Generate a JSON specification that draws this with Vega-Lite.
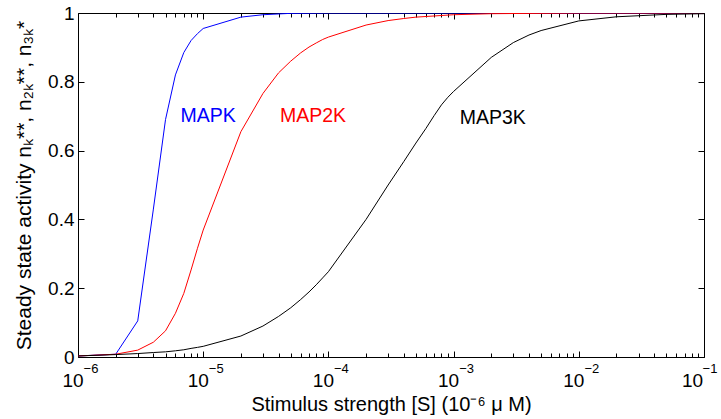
{
  "$schema": "https://vega.github.io/schema/vega-lite/v6.json",
  "width": 626,
  "height": 344,
  "autosize": "none",
  "padding": {"left": 78, "top": 13, "right": 17, "bottom": 62},
  "background": "white",
  "config": {
    "font": "Liberation Sans",
    "view": {"stroke": "black", "strokeWidth": 1},
    "axis": {"grid": false, "domain": false, "tickColor": "black", "labelColor": "black", "titleColor": "black", "labelFont": "Liberation Sans", "titleFont": "Liberation Sans", "titleFontWeight": "normal", "labelFontSize": 19, "titleFontSize": 20, "tickWidth": 1}
  },
  "datasets": {
    "curves": [
      {"x": 1e-6, "v": 0.003, "s": "MAPK"},
      {"x": 2e-6, "v": 0.008, "s": "MAPK"},
      {"x": 3e-6, "v": 0.105, "s": "MAPK"},
      {"x": 4e-6, "v": 0.43, "s": "MAPK"},
      {"x": 5e-6, "v": 0.69, "s": "MAPK"},
      {"x": 6e-6, "v": 0.82, "s": "MAPK"},
      {"x": 7e-6, "v": 0.885, "s": "MAPK"},
      {"x": 8e-6, "v": 0.92, "s": "MAPK"},
      {"x": 9e-6, "v": 0.94, "s": "MAPK"},
      {"x": 1e-5, "v": 0.955, "s": "MAPK"},
      {"x": 2e-5, "v": 0.988, "s": "MAPK"},
      {"x": 3e-5, "v": 0.995, "s": "MAPK"},
      {"x": 5e-5, "v": 0.999, "s": "MAPK"},
      {"x": 1e-4, "v": 1.0, "s": "MAPK"},
      {"x": 1e-3, "v": 1.0, "s": "MAPK"},
      {"x": 1e-2, "v": 1.0, "s": "MAPK"},
      {"x": 1e-1, "v": 1.0, "s": "MAPK"},
      {"x": 1e-6, "v": 0.003, "s": "MAP2K"},
      {"x": 2e-6, "v": 0.008, "s": "MAP2K"},
      {"x": 3e-6, "v": 0.02, "s": "MAP2K"},
      {"x": 4e-6, "v": 0.043, "s": "MAP2K"},
      {"x": 5e-6, "v": 0.076, "s": "MAP2K"},
      {"x": 6e-6, "v": 0.127, "s": "MAP2K"},
      {"x": 7e-6, "v": 0.185, "s": "MAP2K"},
      {"x": 8e-6, "v": 0.253, "s": "MAP2K"},
      {"x": 9e-6, "v": 0.316, "s": "MAP2K"},
      {"x": 1e-5, "v": 0.369, "s": "MAP2K"},
      {"x": 2e-5, "v": 0.655, "s": "MAP2K"},
      {"x": 3e-5, "v": 0.766, "s": "MAP2K"},
      {"x": 4e-5, "v": 0.826, "s": "MAP2K"},
      {"x": 5e-5, "v": 0.86, "s": "MAP2K"},
      {"x": 6e-5, "v": 0.884, "s": "MAP2K"},
      {"x": 7e-5, "v": 0.901, "s": "MAP2K"},
      {"x": 8e-5, "v": 0.913, "s": "MAP2K"},
      {"x": 9e-5, "v": 0.923, "s": "MAP2K"},
      {"x": 1e-4, "v": 0.93, "s": "MAP2K"},
      {"x": 2e-4, "v": 0.965, "s": "MAP2K"},
      {"x": 3e-4, "v": 0.978, "s": "MAP2K"},
      {"x": 4e-4, "v": 0.984, "s": "MAP2K"},
      {"x": 5e-4, "v": 0.988, "s": "MAP2K"},
      {"x": 1e-3, "v": 0.995, "s": "MAP2K"},
      {"x": 2e-3, "v": 0.998, "s": "MAP2K"},
      {"x": 1e-2, "v": 1.0, "s": "MAP2K"},
      {"x": 1e-1, "v": 1.0, "s": "MAP2K"},
      {"x": 1e-6, "v": 0.003, "s": "MAP3K"},
      {"x": 2e-6, "v": 0.007, "s": "MAP3K"},
      {"x": 3e-6, "v": 0.01, "s": "MAP3K"},
      {"x": 4e-6, "v": 0.013, "s": "MAP3K"},
      {"x": 5e-6, "v": 0.015, "s": "MAP3K"},
      {"x": 6e-6, "v": 0.018, "s": "MAP3K"},
      {"x": 7e-6, "v": 0.021, "s": "MAP3K"},
      {"x": 8e-6, "v": 0.025, "s": "MAP3K"},
      {"x": 9e-6, "v": 0.028, "s": "MAP3K"},
      {"x": 1e-5, "v": 0.031, "s": "MAP3K"},
      {"x": 2e-5, "v": 0.061, "s": "MAP3K"},
      {"x": 3e-5, "v": 0.09, "s": "MAP3K"},
      {"x": 4e-5, "v": 0.118, "s": "MAP3K"},
      {"x": 5e-5, "v": 0.143, "s": "MAP3K"},
      {"x": 6e-5, "v": 0.167, "s": "MAP3K"},
      {"x": 7e-5, "v": 0.189, "s": "MAP3K"},
      {"x": 8e-5, "v": 0.21, "s": "MAP3K"},
      {"x": 9e-5, "v": 0.23, "s": "MAP3K"},
      {"x": 1e-4, "v": 0.248, "s": "MAP3K"},
      {"x": 2e-4, "v": 0.4, "s": "MAP3K"},
      {"x": 3e-4, "v": 0.5, "s": "MAP3K"},
      {"x": 4e-4, "v": 0.568, "s": "MAP3K"},
      {"x": 5e-4, "v": 0.622, "s": "MAP3K"},
      {"x": 6e-4, "v": 0.664, "s": "MAP3K"},
      {"x": 7e-4, "v": 0.702, "s": "MAP3K"},
      {"x": 8e-4, "v": 0.733, "s": "MAP3K"},
      {"x": 9e-4, "v": 0.755, "s": "MAP3K"},
      {"x": 1e-3, "v": 0.772, "s": "MAP3K"},
      {"x": 2e-3, "v": 0.871, "s": "MAP3K"},
      {"x": 3e-3, "v": 0.914, "s": "MAP3K"},
      {"x": 4e-3, "v": 0.936, "s": "MAP3K"},
      {"x": 5e-3, "v": 0.949, "s": "MAP3K"},
      {"x": 1e-2, "v": 0.977, "s": "MAP3K"},
      {"x": 2e-2, "v": 0.989, "s": "MAP3K"},
      {"x": 5e-2, "v": 0.996, "s": "MAP3K"},
      {"x": 1e-1, "v": 0.998, "s": "MAP3K"}
    ],
    "labels": [
      {"x": 6.6e-6, "v": 0.70, "s": "MAPK"},
      {"x": 4.1e-5, "v": 0.70, "s": "MAP2K"},
      {"x": 1.12e-3, "v": 0.695, "s": "MAP3K"}
    ]
  },
  "layer": [
    {
      "data": {"name": "curves"},
      "mark": {"type": "line", "strokeWidth": 1, "clip": true},
      "encoding": {
        "x": {"field": "x", "type": "quantitative",
          "scale": {"type": "log", "domain": [1e-6, 0.1], "nice": false},
          "axis": {"orient": "bottom", "values": [1e-6, 1e-5, 1e-4, 1e-3, 1e-2, 1e-1], "tickSize": -6, "labelPadding": 20,
            "labelOffset": {"condition": {"test": "datum.value > 0.05", "value": -12}, "value": -5.5},
            "labelFlush": false, "labelOverlap": false,
            "labelExpr": "'10'",
            "title": "Stimulus strength [S] (10⁻⁶ μ M)", "titlePadding": 4}},
        "y": {"field": "v", "type": "quantitative",
          "scale": {"domain": [0, 1], "nice": false, "zero": false},
          "axis": {"orient": "left", "values": [0, 0.2, 0.4, 0.6, 0.8, 1], "tickSize": -6, "labelPadding": 10, "format": "~g", "labelFlush": false, "labelOverlap": false,
            "title": "Steady state activity nₖ**, n₂ₖ**, n₃ₖ*", "titleFontSize": 21, "titlePadding": 13}},
        "color": {"field": "s", "type": "nominal",
          "scale": {"domain": ["MAPK", "MAP2K", "MAP3K"], "range": ["#0000ff", "#ff0000", "#000000"]},
          "legend": null}
      }
    },
    {
      "data": {"name": "curves"},
      "mark": {"type": "line", "strokeOpacity": 0},
      "encoding": {
        "x": {"field": "x", "type": "quantitative",
          "axis": {"orient": "bottom", "values": [1e-6, 1e-5, 1e-4, 1e-3, 1e-2, 1e-1], "ticks": false, "labelPadding": 5,
            "labelOffset": {"condition": {"test": "datum.value > 0.05", "value": 5.5}, "value": 12.5},
            "labelFontSize": 13, "labelFlush": false, "labelOverlap": false,
            "labelExpr": "'−' + (-round(log(datum.value)/LN10))", "title": null}},
        "y": {"field": "v", "type": "quantitative", "axis": null},
        "detail": {"field": "s"}
      }
    },
    {
      "data": {"name": "curves"},
      "mark": {"type": "line", "strokeOpacity": 0},
      "encoding": {
        "x": {"field": "x", "type": "quantitative",
          "axis": {"orient": "top", "values": [1e-6, 1e-5, 1e-4, 1e-3, 1e-2, 1e-1], "tickSize": -6, "labels": false, "title": null}},
        "y": {"field": "v", "type": "quantitative",
          "axis": {"orient": "right", "values": [0, 0.2, 0.4, 0.6, 0.8, 1], "tickSize": -6, "labels": false, "title": null}},
        "detail": {"field": "s"}
      }
    },
    {
      "data": {"name": "curves"},
      "mark": {"type": "line", "strokeOpacity": 0},
      "encoding": {
        "x": {"field": "x", "type": "quantitative",
          "axis": {"orient": "bottom", "values": [2e-6,3e-6,4e-6,5e-6,6e-6,7e-6,8e-6,9e-6,2e-5,3e-5,4e-5,5e-5,6e-5,7e-5,8e-5,9e-5,2e-4,3e-4,4e-4,5e-4,6e-4,7e-4,8e-4,9e-4,2e-3,3e-3,4e-3,5e-3,6e-3,7e-3,8e-3,9e-3,2e-2,3e-2,4e-2,5e-2,6e-2,7e-2,8e-2,9e-2], "tickSize": -4, "labels": false, "title": null}},
        "y": {"field": "v", "type": "quantitative", "axis": null},
        "detail": {"field": "s"}
      }
    },
    {
      "data": {"name": "curves"},
      "mark": {"type": "line", "strokeOpacity": 0},
      "encoding": {
        "x": {"field": "x", "type": "quantitative",
          "axis": {"orient": "top", "values": [2e-6,3e-6,4e-6,5e-6,6e-6,7e-6,8e-6,9e-6,2e-5,3e-5,4e-5,5e-5,6e-5,7e-5,8e-5,9e-5,2e-4,3e-4,4e-4,5e-4,6e-4,7e-4,8e-4,9e-4,2e-3,3e-3,4e-3,5e-3,6e-3,7e-3,8e-3,9e-3,2e-2,3e-2,4e-2,5e-2,6e-2,7e-2,8e-2,9e-2], "tickSize": -4, "labels": false, "title": null}},
        "y": {"field": "v", "type": "quantitative", "axis": null},
        "detail": {"field": "s"}
      }
    },
    {
      "data": {"name": "labels"},
      "mark": {"type": "text", "align": "left", "baseline": "middle", "fontSize": 19.5, "font": "Liberation Sans"},
      "encoding": {
        "x": {"field": "x", "type": "quantitative", "axis": null},
        "y": {"field": "v", "type": "quantitative", "axis": null},
        "text": {"field": "s"},
        "color": {"field": "s", "type": "nominal", "legend": null}
      }
    }
  ],
  "resolve": {"axis": {"x": "independent", "y": "independent"}}
}
